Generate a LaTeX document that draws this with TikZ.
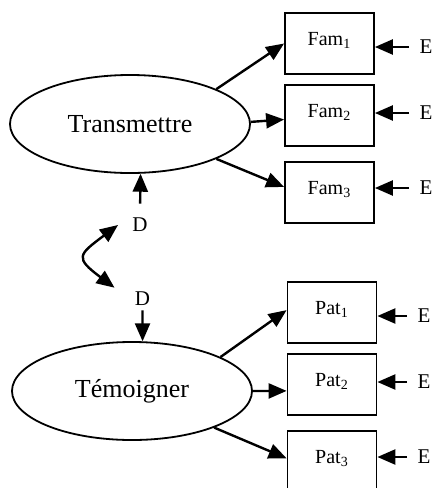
\documentclass[tikz,border=0pt]{standalone}
\usepackage{fontspec}
\setmainfont{Liberation Serif}
\usetikzlibrary{shapes.geometric,arrows.meta,positioning,calc}

\begin{document}
\begin{tikzpicture}[
    x=0.5pt, y=-0.5pt,
    latent/.style={draw, ellipse, line width=0.9pt, minimum width=120pt, minimum height=49pt, inner sep=0pt, font=\fontsize{13}{15}\selectfont},
    indicator/.style={draw, rectangle, line width=0.9pt, minimum width=44.5pt, minimum height=30.5pt, inner sep=0pt, text height=7pt, text depth=5pt, font=\fontsize{10}{12}\selectfont},
    resid/.style={inner sep=2pt, font=\fontsize{10.5}{12}\selectfont},
    err/.style={resid, inner sep=5pt},
    arrow/.style={-{Triangle[length=9pt,width=7.5pt]}, line width=1.2pt},
    dbl/.style={{Triangle[length=9pt,width=7.5pt]}-{Triangle[length=9pt,width=7.5pt]}, line width=1.2pt}
]
\useasboundingbox (0,0) rectangle (434,488);

% Transmettre and its indicators
\node[latent] (T) at (130,124) {Transmettre};
\node[indicator] (F1) at (329.5,43.5) {Fam\textsubscript{1}};
\node[indicator] (F2) at (329.5,115.5) {Fam\textsubscript{2}};
\node[indicator] (F3) at (329.5,192.5) {Fam\textsubscript{3}};
\node[err] (E1) at (426,47) {E};
\node[err] (E2) at (426,113) {E};
\node[err] (E3) at (426,188) {E};

\draw[arrow] (T.22) -- (F1.west);
\draw[arrow] (T.1) -- (F2.185);
\draw[arrow] (T.-22) -- (F3.173);
\draw[arrow] (E1.west) -- (E1.west -| F1.east);
\draw[arrow] (E2.west) -- (E2.west -| F2.east);
\draw[arrow] (E3.west) -- (E3.west -| F3.east);

% Temoigner and its indicators
\node[latent] (W) at (132,391) {Témoigner};
\node[indicator] (P1) at (332,312.5) {Pat\textsubscript{1}};
\node[indicator] (P2) at (332,384.5) {Pat\textsubscript{2}};
\node[indicator] (P3) at (332,461.5) {Pat\textsubscript{3}};
\node[err] (E4) at (424,316) {E};
\node[err] (E5) at (424,382) {E};
\node[err] (E6) at (424,457) {E};

\draw[arrow] (W.21) -- (P1.177);
\draw[arrow] (W.0) -- (P2.188);
\draw[arrow] (W.-24) -- (P3.176);
\draw[arrow] (E4.west) -- (E4.west -| P1.east);
\draw[arrow] (E5.west) -- (E5.west -| P2.east);
\draw[arrow] (E6.west) -- (E6.west -| P3.east);

% Disturbances
\node[resid] (D1) at (140,225) {D};
\node[resid] (D2) at (142.5,299) {D};
\draw[arrow, shorten <=5pt] (D1.north) -- (T.-78);
\draw[arrow] (D2.south) -- (W.78);
\draw[dbl] ([xshift=-5pt]D1.west) .. controls +(-40,30) and +(-40,-30) .. ([xshift=-8pt]D2.north west);

\end{tikzpicture}
\end{document}
